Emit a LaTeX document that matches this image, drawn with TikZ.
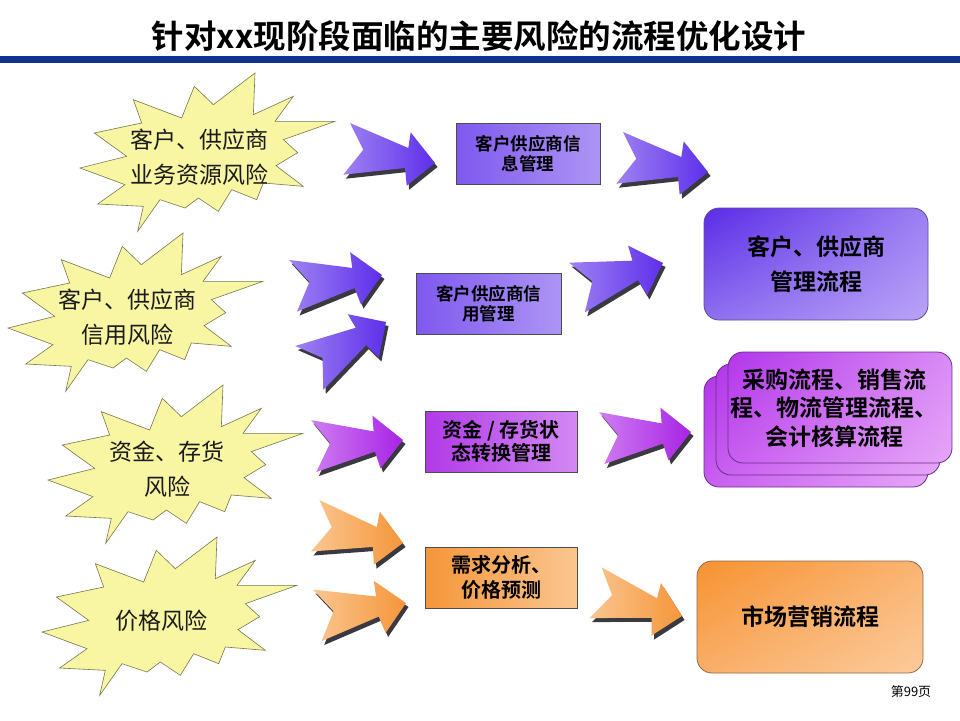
\documentclass[tikz,border=0pt]{standalone}
\usepackage{fontspec}
\setmainfont{Noto Sans CJK SC}[BoldFont={Noto Sans CJK SC Bold}]
\usetikzlibrary{shadings}
\definecolor{barblue}{HTML}{0E348F}
\definecolor{sealfill}{HTML}{F8F6A2}
\definecolor{sealline}{HTML}{77774E}
\definecolor{txt}{HTML}{1A1A1A}
\definecolor{arrshadow}{HTML}{3A3840}
\definecolor{vioL}{HTML}{9E82F2}
\definecolor{vioD}{HTML}{5E2FEA}
\definecolor{magL}{HTML}{CE7CF2}
\definecolor{magD}{HTML}{A824E4}
\definecolor{orL}{HTML}{FBC690}
\definecolor{orD}{HTML}{F4963A}
\definecolor{eUL}{HTML}{5A2BE6}
\definecolor{eUR}{HTML}{9C7FF3}
\definecolor{eLL}{HTML}{8E6FF0}
\definecolor{eLR}{HTML}{B9A3F7}
\definecolor{eLine}{HTML}{5E4E8E}
\definecolor{fUL}{HTML}{B236EA}
\definecolor{fUR}{HTML}{D98BF5}
\definecolor{fLL}{HTML}{C85EF0}
\definecolor{fLR}{HTML}{E6A6F8}
\definecolor{fLine}{HTML}{6B2D86}
\definecolor{gUL}{HTML}{F79230}
\definecolor{gUR}{HTML}{FAB472}
\definecolor{gLL}{HTML}{F9AE68}
\definecolor{gLR}{HTML}{FCCB9C}
\definecolor{gLine}{HTML}{8E6A48}
\def\sealpath{(540,15) -- (535,140) -- (655,85) -- (600,160) -- (780,160) -- (625,215) -- (668,254) -- (603,293) -- (685,355) -- (565,345) -- (545,395) -- (470,365) -- (430,430) -- (370,390) -- (330,420) -- (255,395) -- (188,490) -- (205,415) -- (68,408) -- (150,350) -- (15,300) -- (155,265) -- (58,195) -- (200,165) -- (175,95) -- (320,150) -- (358,55) -- (415,110) -- cycle}
\def\arrowpath{(-85,-40) -- (-71.7,-13.3) -- (-91.7,11.7) -- (-30,5) -- (-28.3,22.7) -- (0,0) -- (-24.3,-30.6) -- (-26.7,-15) -- cycle}
\newcommand\flowarrow[5]{%
  \fill[arrshadow, shift={(#1+2.5,#2+4)}, rotate=#3] \arrowpath;
  \shade[shift={(#1,#2)}, rotate=#3, left color=#4, right color=#5] \arrowpath;}
\newcommand\riskseal[4]{%
  \begin{scope}[shift={(#1,#2)}, scale=0.33333]
    \draw[seal] \sealpath;
  \end{scope}
  \node[sealtext] (#3) at (#1+124,#2+89) {#4};}
\begin{document}
\begin{tikzpicture}[x=1pt,y=-1pt,
  seal/.style={fill=sealfill, draw=sealline, line width=0.6pt, line join=miter},
  sealtext/.style={font=\fontsize{23}{35}\selectfont, text=txt, align=center, inner sep=0pt},
  midbox/.style={draw=black!70, line width=0.8pt, align=center, inner sep=0pt,
    font=\bfseries\fontsize{17.5}{20}\selectfont, text=black},
  bigbox/.style={rounded corners=15pt, line width=0.8pt, align=center, inner sep=0pt,
    minimum width=224pt, minimum height=112pt, font=\bfseries\fontsize{23}{35}\selectfont, text=black},
  eshade/.style={draw=eLine, upper left=eUL, upper right=eUR, lower left=eLL, lower right=eLR},
  fshade/.style={draw=fLine, upper left=fUL, upper right=fUR, lower left=fLL, lower right=fLR},
  gshade/.style={draw=gLine, upper left=gUL, upper right=gUR, lower left=gLL, lower right=gLR}
]
\useasboundingbox[fill=white] (0,0) rectangle (960,720);

% title
\node[font=\bfseries\fontsize{32.5}{40}\selectfont, text=black] (title) at (479,36) {针对xx现阶段面临的主要风险的流程优化设计};
\fill[barblue] (0,56) rectangle (960,63);

% risk explosions
\riskseal{75}{68}{r1}{客户、供应商\\业务资源风险}
\riskseal{3}{228}{r2}{客户、供应商\\信用风险}
\riskseal{43}{380}{r3}{资金、存货\\风险}
\riskseal{37}{532}{r4}{价格风险}

% arrows
\flowarrow{435}{163}{0}{vioL}{vioD}
\flowarrow{708}{172}{0}{vioL}{vioD}
\flowarrow{382}{275}{16}{vioL}{vioD}
\flowarrow{386}{322}{40}{vioL}{vioD}
\flowarrow{663}{263}{25}{vioL}{vioD}
\flowarrow{403}{440}{13}{magL}{magD}
\flowarrow{691}{432}{13}{magL}{magD}
\flowarrow{403}{543}{-2}{orL}{orD}
\flowarrow{406}{603}{17}{orL}{orD}
\flowarrow{682}{616}{-6}{orL}{orD}

% middle boxes
\node[midbox, left color=vioD!80!white, right color=vioL!85!white, minimum width=144pt, minimum height=61pt] (ma) at (528,153.5) {客户供应商信\\息管理};
\node[midbox, left color=vioD!80!white, right color=vioL!85!white, minimum width=145pt, minimum height=61pt] (mb) at (488.5,303.5) {客户供应商信\\用管理};
\node[midbox, font=\bfseries\fontsize{20}{23}\selectfont, left color=magD!90!white, right color=magL!90!white, minimum width=152pt, minimum height=61pt] (mc) at (501,441.5) {资金 / 存货状\\态转换管理};
\node[midbox, font=\bfseries\fontsize{20}{25}\selectfont, left color=orD, right color=orL, minimum width=152pt, minimum height=61pt] (md) at (501,577.5) {需求分析、\\价格预测};

% right boxes
\node[bigbox, eshade] (pa) at (816,264) {客户、供应商\\管理流程};
\node[bigbox, fshade, minimum height=111pt] (pb3) at (816,431.5) {};
\node[bigbox, fshade, minimum height=111pt] (pb2) at (828,419.5) {};
\node[bigbox, fshade, minimum height=111pt] (pb) at (840,407.5) {};
\node[font=\bfseries\fontsize{23}{28.5}\selectfont, text=black, align=center, inner sep=0pt] (pbt) at (834,408) {采购流程、销售流\\程、物流管理流程、\\会计核算流程};
\node[bigbox, gshade, minimum width=226pt] (pc) at (810,617) {市场营销流程};

% page number
\node[font=\fontsize{13}{15}\selectfont, text=black] (pg) at (911,692) {第99页};
\end{tikzpicture}
\end{document}
